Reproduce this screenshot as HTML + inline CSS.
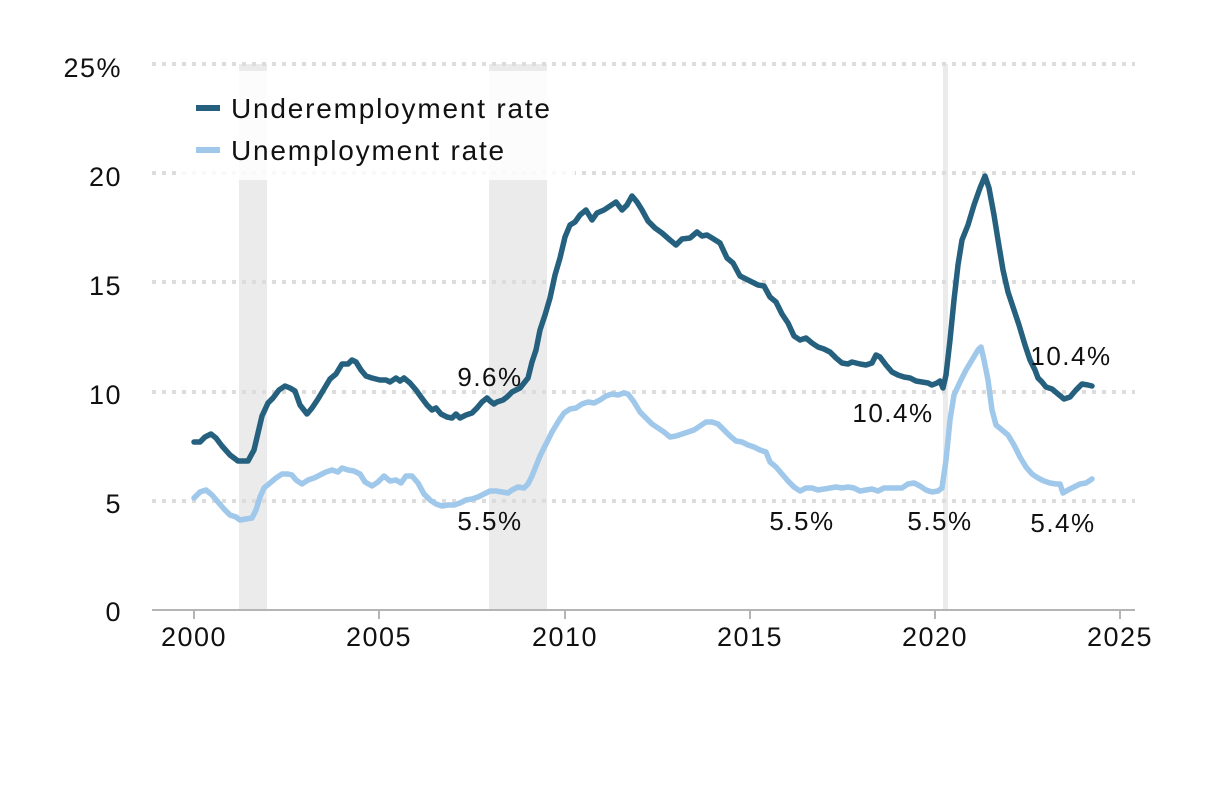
<!DOCTYPE html>
<html><head><meta charset="utf-8"><style>
html,body{margin:0;padding:0;background:#fff;}
svg{display:block;font-family:"Liberation Sans",sans-serif;}
</style></head><body>
<svg width="1216" height="805" viewBox="0 0 1216 805">
<rect x="239" y="64" width="28" height="546" fill="#ebebeb"/>
<rect x="489" y="64" width="58" height="546" fill="#ebebeb"/>
<rect x="943" y="64" width="5" height="546" fill="#ebebeb"/>
<g stroke="#dcdcdc" stroke-width="4" stroke-dasharray="4,6">
<line x1="152" y1="64" x2="1135" y2="64"/>
<line x1="152" y1="173" x2="1135" y2="173"/>
<line x1="152" y1="282" x2="1135" y2="282"/>
<line x1="152" y1="392" x2="1135" y2="392"/>
<line x1="152" y1="501" x2="1135" y2="501"/>
</g>
<rect x="180" y="71" width="395" height="109" fill="#fff" fill-opacity="0.82"/>
<line x1="152" y1="610" x2="1135" y2="610" stroke="#b5b5b5" stroke-width="2"/>
<g stroke="#b5b5b5" stroke-width="2">
<line x1="194" y1="610" x2="194" y2="619"/><line x1="379" y1="610" x2="379" y2="619"/>
<line x1="565" y1="610" x2="565" y2="619"/><line x1="750" y1="610" x2="750" y2="619"/>
<line x1="935" y1="610" x2="935" y2="619"/><line x1="1120" y1="610" x2="1120" y2="619"/>
</g>
<g font-size="27" fill="#111" text-anchor="end" letter-spacing="1.5">
<text x="122" y="77">25%</text><text x="122" y="186">20</text><text x="122" y="295">15</text>
<text x="122" y="404">10</text><text x="122" y="513">5</text><text x="122" y="621">0</text>
</g>
<g font-size="27" fill="#111" text-anchor="middle" letter-spacing="1.5">
<text x="194" y="646">2000</text><text x="379" y="646">2005</text><text x="565" y="646">2010</text>
<text x="750" y="646">2015</text><text x="935" y="646">2020</text><text x="1120" y="646">2025</text>
</g>
<polyline fill="none" stroke="#9fc8ea" stroke-width="5.5" stroke-linejoin="round" stroke-linecap="round" points="194,498 200,492 206,490 212,495 218,502 224,509 230,515 236,517 240,520 246,519 252,518 256,510 260,497 264,488 270,483 276,478 282,474 288,474 292,475 296,480 302,484 308,480 314,478 320,475 326,472 332,470 338,472 342,468 348,470 354,471 360,474 365,482 372,486 378,482 384,476 390,481 396,480 401,483 406,476 412,476 418,483 424,494 430,500 436,504 442,506 448,505 454,505 460,503 466,500 472,499 478,497 484,494 490,491 496,491 502,492 508,493 512,490 518,487 524,488 528,484 532,476 536,466 540,456 546,444 552,432 558,422 564,413 570,409 576,408 582,404 588,402 594,403 600,400 606,396 612,394 618,395 624,393 628,394 634,402 640,412 646,418 652,424 658,428 664,432 670,437 676,436 682,434 688,432 694,430 700,426 706,422 712,422 718,424 724,430 730,436 736,441 742,442 748,445 754,447 760,450 766,452 770,462 776,467 782,474 788,481 794,487 800,491 806,488 812,488 818,490 824,489 830,488 836,487 842,488 848,487 854,488 860,491 866,490 872,489 878,491 884,488 890,488 896,488 902,488 908,484 914,483 920,486 926,490 932,492 938,491 942,488 946,460 950,420 954,395 960,382 966,370 972,360 978,350 981,347 984,360 988,380 992,410 996,425 1002,430 1008,435 1014,445 1020,457 1026,467 1032,474 1038,478 1044,481 1050,483 1056,484 1060,484 1063,493 1068,490 1074,487 1080,484 1086,483 1092,479"/>
<polyline fill="none" stroke="#25617f" stroke-width="5.5" stroke-linejoin="round" stroke-linecap="round" points="194,442 200,442 205,437 211,434 216,438 222,446 230,455 238,461 245,461 248,461 254,450 262,416 268,403 273,398 279,390 285,386 290,388 295,391 300,405 307,414 312,408 318,399 324,389 330,379 336,374 342,364 348,364 352,360 356,362 361,370 366,376 372,378 380,380 386,380 390,382 396,378 400,381 404,378 410,383 416,390 421,397 427,405 432,410 436,408 441,414 447,417 452,418 456,414 460,418 466,415 472,413 477,408 482,402 487,398 490,401 494,404 497,402 503,400 507,397 512,392 516,390 520,388 524,383 528,378 532,362 536,350 540,330 545,315 550,298 555,275 560,258 565,237 570,225 575,222 580,215 586,210 592,220 597,213 604,210 610,206 616,202 622,210 627,205 632,196 637,202 642,210 648,221 655,228 662,233 670,240 676,245 682,239 690,238 697,232 702,236 707,235 712,238 720,243 727,258 733,263 740,276 746,279 752,282 758,285 764,286 770,297 776,302 782,314 788,323 794,336 800,340 806,338 812,343 818,347 824,349 830,352 836,358 842,363 848,364 852,362 860,364 866,365 872,363 876,355 880,357 886,365 892,372 898,375 904,377 910,378 916,381 922,382 928,383 932,385 937,383 940,381 943,388 946,375 950,340 954,300 958,265 962,240 968,225 974,205 980,188 985,176 989,188 994,215 998,240 1003,270 1008,292 1014,310 1019,325 1025,345 1030,360 1035,370 1038,378 1042,382 1046,387 1052,389 1058,394 1064,399 1070,397 1076,390 1082,384 1088,385 1092,386"/>
<line x1="196" y1="108" x2="220" y2="108" stroke="#25617f" stroke-width="6"/>
<line x1="196" y1="150" x2="220" y2="150" stroke="#9fc8ea" stroke-width="6"/>
<g font-size="28" fill="#111" letter-spacing="1.8">
<text x="231" y="118">Underemployment rate</text>
<text x="231" y="160">Unemployment rate</text>
</g>
<g font-size="26" fill="#111" text-anchor="middle" letter-spacing="1.5">
<text x="490" y="386">9.6%</text>
<text x="490" y="530">5.5%</text>
<text x="802" y="530">5.5%</text>
<text x="893" y="422">10.4%</text>
<text x="940" y="530">5.5%</text>
<text x="1063" y="532">5.4%</text>
<text x="1071" y="365">10.4%</text>
</g>
</svg>
</body></html>
